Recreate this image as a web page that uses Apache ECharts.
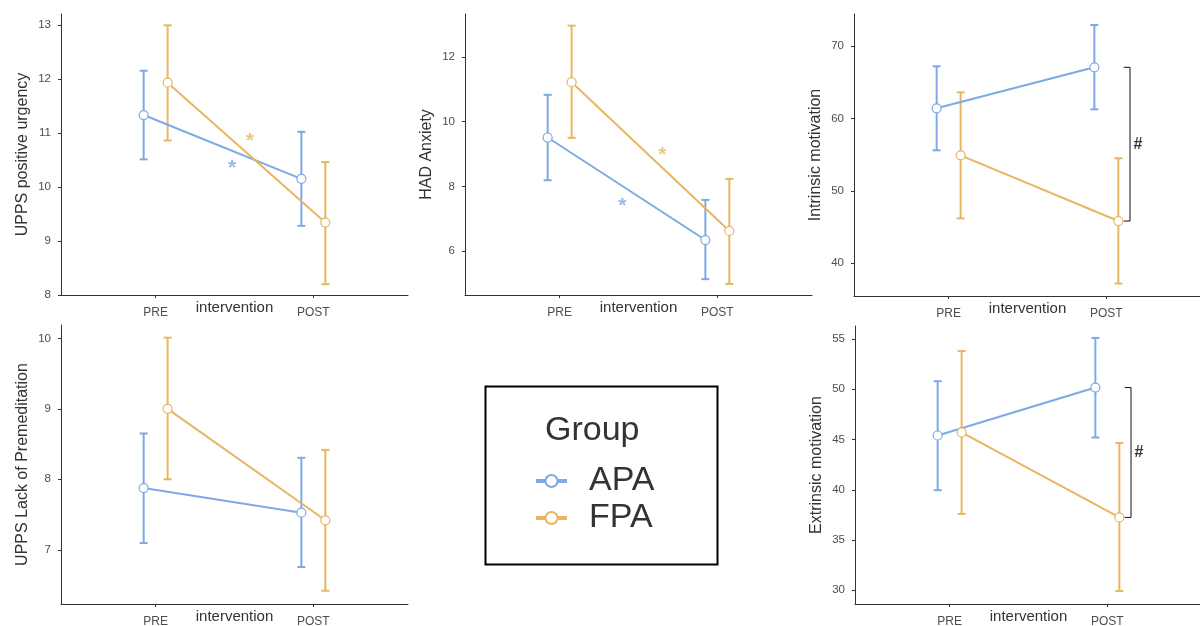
<!DOCTYPE html>
<html>
<head>
<meta charset="utf-8">
<script src="https://cdn.jsdelivr.net/npm/echarts@6/dist/echarts.min.js"></script>
<style>
  html, body { margin: 0; padding: 0; background: #fff; }
  #chart { width: 1200px; height: 626px; }
</style>
</head>
<body>
<div id="chart"></div>
<script>
// categories and groups
const categories = ['PRE', 'POST'];
const groups = ['APA', 'FPA'];

// each row: [mean, lower, upper] for PRE then POST
const urgencyAPA = [[11.33, 10.51, 12.15], [10.15, 9.28, 11.02]];
const urgencyFPA = [[11.93, 10.86, 12.99], [9.34, 8.20, 10.46]];
const anxietyAPA = [[9.51, 8.19, 10.83], [6.34, 5.13, 7.58]];
const anxietyFPA = [[11.22, 9.50, 12.97], [6.62, 4.98, 8.23]];
const intrinsicAPA = [[61.4, 55.6, 67.2], [67.06, 61.26, 72.9]];
const intrinsicFPA = [[54.9, 46.2, 63.6], [45.83, 37.2, 54.5]];
const premeditAPA = [[7.876, 7.095, 8.65], [7.526, 6.755, 8.305]];
const premeditFPA = [[9.0, 8.0, 10.01], [7.418, 6.418, 8.418]];
const extrinsicAPA = [[45.4, 39.96, 50.8], [50.17, 45.2, 55.1]];
const extrinsicFPA = [[45.7, 37.6, 53.8], [37.25, 29.93, 44.66]];

// asterisk positions (x on the 1..2 scale, y value) for APA then FPA
const urgencyStars = [[1.484, 10.43], [1.598, 10.93]];
const anxietyStars = [[1.397, 7.53], [1.651, 9.13]];

// tick labels
const urgencyTicks = [8, 9, 10, 11, 12, 13];
const anxietyTicks = [6, 8, 10, 12];
const intrinsicTicks = [40, 50, 60, 70];
const premeditTicks = [7, 8, 9, 10];
const extrinsicTicks = [30, 35, 40, 45, 50, 55];

const colors = { APA: '#7ea8e6', FPA: '#e8b660' };
const dodge = 0.076;
const font = "'Liberation Sans', Arial, sans-serif";

const panels = [
  { grid: { left: 61, top: 14, width: 347, height: 281 }, yMin: 8, yMax: 13.2, ticks: urgencyTicks,
    title: 'UPPS positive urgency', apa: urgencyAPA, fpa: urgencyFPA, stars: urgencyStars },
  { grid: { left: 465, top: 14, width: 347, height: 281 }, yMin: 4.64, yMax: 13.33, ticks: anxietyTicks,
    title: 'HAD Anxiety', apa: anxietyAPA, fpa: anxietyFPA, stars: anxietyStars },
  { grid: { left: 854, top: 14, width: 347, height: 282 }, yMin: 35.48, yMax: 74.42, ticks: intrinsicTicks,
    title: 'Intrinsic motivation', apa: intrinsicAPA, fpa: intrinsicFPA, bracket: true },
  { grid: { left: 61, top: 325, width: 347, height: 279 }, yMin: 6.23, yMax: 10.19, ticks: premeditTicks,
    title: 'UPPS Lack of Premeditation', apa: premeditAPA, fpa: premeditFPA },
  { grid: { left: 855, top: 326, width: 347, height: 278 }, yMin: 28.64, yMax: 56.29, ticks: extrinsicTicks,
    title: 'Extrinsic motivation', apa: extrinsicAPA, fpa: extrinsicFPA, bracket: true }
];

const chart = echarts.init(document.getElementById('chart'));

const grids = [];
const xAxes = [];
const yAxes = [];
const series = [];

// vertical error bar with caps
function errorBarItem(params, api) {
  const x = api.value(0);
  const lo = api.coord([x, api.value(1)]);
  const hi = api.coord([x, api.value(2)]);
  const w = 4;
  const style = { stroke: api.visual('color'), lineWidth: 2 };
  return {
    type: 'group',
    children: [
      { type: 'line', shape: { x1: lo[0], y1: lo[1], x2: hi[0], y2: hi[1] }, style: style },
      { type: 'line', shape: { x1: hi[0] - w, y1: hi[1], x2: hi[0] + w, y2: hi[1] }, style: style },
      { type: 'line', shape: { x1: lo[0] - w, y1: lo[1], x2: lo[0] + w, y2: lo[1] }, style: style }
    ]
  };
}

panels.forEach((p, k) => {
  grids.push(Object.assign({ outerBoundsMode: 'none', containLabel: false }, p.grid));
  xAxes.push({
    type: 'value', gridIndex: k, min: 0.4, max: 2.6,
    name: 'intervention', nameLocation: 'middle', nameGap: 5, nameMoveOverlap: false,
    nameTextStyle: { fontSize: 15, color: '#333', fontFamily: font },
    axisLine: { lineStyle: { color: '#333', width: 1 } },
    axisTick: { length: 3, lineStyle: { color: '#333' }, customValues: [1, 2] },
    axisLabel: { customValues: [1, 2], margin: 12, fontSize: 12, color: '#4d4d4d', fontFamily: font,
      formatter: v => categories[Math.round(v) - 1] },
    splitLine: { show: false }
  });
  yAxes.push({
    type: 'value', gridIndex: k, min: p.yMin, max: p.yMax,
    name: p.title, nameLocation: 'middle', nameGap: 30,
    nameTextStyle: { fontSize: 16, color: '#333', fontFamily: font },
    axisLine: { show: true, lineStyle: { color: '#333', width: 1 } },
    axisTick: { show: true, length: 3, lineStyle: { color: '#333' }, customValues: p.ticks },
    axisLabel: { customValues: p.ticks, margin: 10, fontSize: 11.5, color: '#4d4d4d', fontFamily: font },
    splitLine: { show: false }
  });

  [p.apa, p.fpa].forEach((vals, g) => {
    const name = groups[g];
    const off = g === 0 ? -dodge : dodge;
    series.push({
      type: 'custom', xAxisIndex: k, yAxisIndex: k, z: 2,
      itemStyle: { color: colors[name] },
      renderItem: errorBarItem,
      encode: { x: 0, y: [1, 2] },
      data: vals.map((v, i) => [i + 1 + off, v[1], v[2]])
    });
    series.push({
      type: 'line', name: name, xAxisIndex: k, yAxisIndex: k, z: 3 + g,
      symbol: 'circle', symbolSize: 9, showSymbol: true,
      lineStyle: { color: colors[name], width: 2 },
      itemStyle: { color: '#fff', borderColor: colors[name], borderWidth: 1.2 },
      data: vals.map((v, i) => [i + 1 + off, v[0]])
    });
  });

  if (p.stars) {
    p.stars.forEach((s, g) => {
      series.push({
        type: 'scatter', xAxisIndex: k, yAxisIndex: k, z: 6, symbolSize: 1,
        itemStyle: { color: 'rgba(0,0,0,0)' },
        label: { show: true, position: 'inside', formatter: '*', offset: [0, 5],
          fontSize: 21, fontWeight: 'bold', color: colors[groups[g]], fontFamily: font },
        data: [s]
      });
    });
  }

  if (p.bracket) {
    const top = p.apa[1][0];
    const bottom = p.fpa[1][0];
    series.push({
      type: 'line', xAxisIndex: k, yAxisIndex: k, z: 6, symbol: 'none',
      lineStyle: { color: '#111', width: 1 },
      data: [[2.11, top], [2.15, top], [2.15, bottom], [2.11, bottom]]
    });
    series.push({
      type: 'scatter', xAxisIndex: k, yAxisIndex: k, z: 6, symbolSize: 1,
      itemStyle: { color: 'rgba(0,0,0,0)' },
      label: { show: true, position: 'inside', formatter: '#', fontSize: 16, fontWeight: 'bold',
        color: '#000', fontFamily: font },
      data: [[2.2, (top + bottom) / 2]]
    });
  }
});

const option = {
  animation: false,
  backgroundColor: '#fff',
  grid: grids,
  xAxis: xAxes,
  yAxis: yAxes,
  series: series,
  legend: {
    data: groups, orient: 'vertical', left: 534, top: 464, itemGap: 3, padding: 0,
    itemWidth: 31, itemHeight: 15, selectedMode: false,
    lineStyle: { width: 4 },
    textStyle: { fontSize: 34, color: '#333', fontFamily: font, padding: [0, 0, 0, 17] }
  },
  graphic: [
    { type: 'rect', left: 483, top: 384, shape: { width: 232, height: 178 },
      style: { fill: 'none', stroke: '#000', lineWidth: 2 } },
    { type: 'text', x: 545, y: 431,
      style: { text: 'Group', fontSize: 34, fill: '#333', fontFamily: font, verticalAlign: 'middle' } }
  ]
};

chart.setOption(option);
</script>
</body>
</html>
